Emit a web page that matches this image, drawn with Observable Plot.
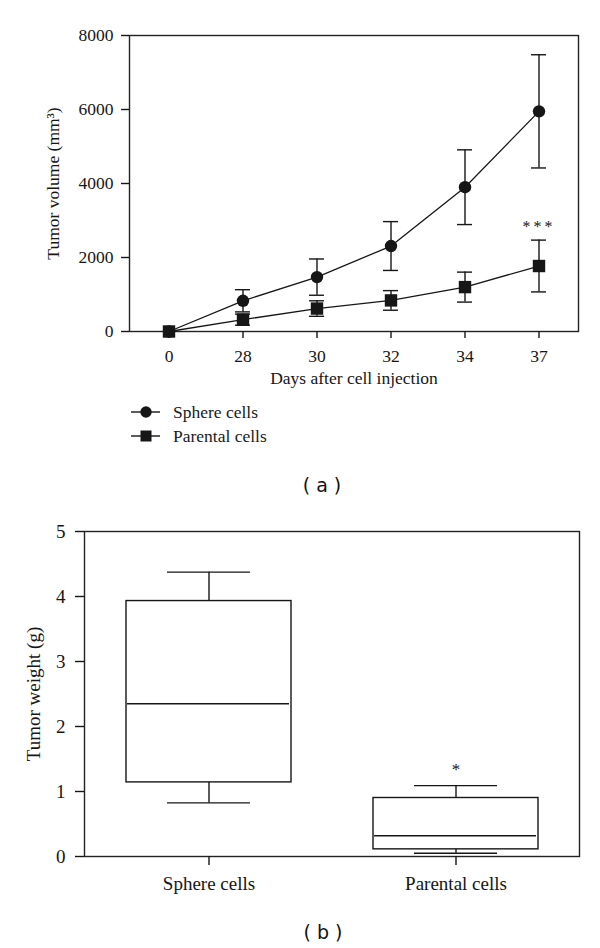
<!DOCTYPE html>
<html><head><meta charset="utf-8">
<script src="https://cdn.jsdelivr.net/npm/d3@7"></script>
<script src="https://cdn.jsdelivr.net/npm/@observablehq/plot@0.6"></script>
<style>
body{margin:0;background:#fff;}
#wrap{position:relative;width:600px;height:948px;background:#fff;font-family:"Liberation Serif",serif;color:#1a1a1a;overflow:hidden;}
.leg{position:absolute;left:131px;height:20px;line-height:20px;font-size:17.5px;display:flex;align-items:center;white-space:nowrap;}
.leg svg{margin-right:13px;}
.cap{position:absolute;font-family:"DejaVu Sans",sans-serif;font-size:19px;transform:translate(-50%,-50%);white-space:pre;color:#111;}
</style></head>
<body><div id="wrap"></div>
<script>
// ---- Panel (a): tumor volume over time ----
const days = ["0", "28", "30", "32", "34", "37"];
const seriesNames = ["Sphere cells", "Parental cells"];
const sphereMean = [0, 830, 1470, 2310, 3900, 5950];
const sphereErr = [0, 300, 490, 660, 1010, 1530];
const parentalMean = [0, 320, 620, 840, 1200, 1770];
const parentalErr = [0, 150, 210, 265, 405, 700];
const volumeTicks = [0, 2000, 4000, 6000, 8000];

// ---- Panel (b): tumor weight box plot ----
const groups = ["Sphere cells", "Parental cells"];
const weightMin = [0.825, 0.05];
const weightQ1 = [1.14, 0.11];
const weightMedian = [2.35, 0.32];
const weightQ3 = [3.93, 0.90];
const weightMax = [4.375, 1.09];
const weightTicks = [0, 1, 2, 3, 4, 5];

const ink = "#161616";
const wrap = document.getElementById("wrap");

function rowsFor(name, mean, err) {
  return days.map((d, i) => ({day: d, series: name, mean: mean[i], err: err[i], lo: mean[i] - err[i], hi: mean[i] + err[i]}));
}
const sphereRows = rowsFor(seriesNames[0], sphereMean, sphereErr);
const parentalRows = rowsFor(seriesNames[1], parentalMean, parentalErr);
const allRows = sphereRows.concat(parentalRows);
const errRows = allRows.filter(d => d.err > 0);
const starsA = [{day: "37", y: parentalRows[5].hi, label: "***"}];

const chartA = Plot.plot({
  width: 600, height: 400,
  marginTop: 35, marginBottom: 69, marginLeft: 129, marginRight: 22,
  style: {fontFamily: "'Liberation Serif', serif", fontSize: "17.5px", color: ink, background: "transparent", overflow: "visible"},
  x: {type: "band", domain: days, paddingInner: 0.8, paddingOuter: 0.4, label: null},
  y: {domain: [0, 8000], label: null},
  marks: [
    Plot.frame({stroke: "#222", strokeWidth: 1.4}),
    Plot.axisY({ticks: volumeTicks, tickSize: 8, tickPadding: 8, tickFormat: d3.format("d"), label: null, strokeWidth: 1.4}),
    Plot.axisX({tickSize: 7, tickPadding: 11, label: null, strokeWidth: 1.4}),
    Plot.text(["Days after cell injection"], {text: d => d, frameAnchor: "bottom", dy: 52}),
    Plot.text(["Tumor volume (mm³)"], {text: d => d, frameAnchor: "left", textAnchor: "middle", rotate: -90, dx: -76}),
    Plot.line(allRows, {x: "day", y: "mean", z: "series", stroke: ink, strokeWidth: 1.3}),
    Plot.ruleX(errRows, {x: "day", y1: "lo", y2: "hi", stroke: ink, strokeWidth: 1.4}),
    Plot.tickY(errRows, {x: "day", y: "hi", stroke: ink, strokeWidth: 1.4}),
    Plot.tickY(errRows, {x: "day", y: "lo", stroke: ink, strokeWidth: 1.4}),
    Plot.dot(sphereRows, {x: "day", y: "mean", symbol: "circle", r: 6.2, fill: ink}),
    Plot.dot(parentalRows, {x: "day", y: "mean", symbol: "square", r: 7, fill: ink}),
    Plot.text(starsA, {x: "day", y: "y", text: "label", dy: -13, fontSize: 16})
  ]
});
chartA.style.position = "absolute";
chartA.style.left = "0px";
chartA.style.top = "0px";
wrap.appendChild(chartA);
d3.select(chartA).selectAll("text").filter(function() { return this.textContent === "***"; }).attr("letter-spacing", "3px");

// legend for (a)
function legendItem(name, symbolType, top) {
  const div = document.createElement("div");
  div.className = "leg";
  div.style.top = top + "px";
  const sym = symbolType === "circle"
    ? `<circle cx="15" cy="8" r="5.7" fill="${ink}"/>`
    : `<rect x="9.5" y="2.5" width="11" height="11" fill="${ink}"/>`;
  div.innerHTML = `<svg width="29" height="16"><line x1="0" x2="29" y1="8" y2="8" stroke="${ink}" stroke-width="1.4"/>${sym}</svg><span>${name}</span>`;
  wrap.appendChild(div);
}
legendItem(seriesNames[0], "circle", 402);
legendItem(seriesNames[1], "square", 426);

function caption(txt, x, y) {
  const d = document.createElement("div");
  d.className = "cap";
  d.style.left = x + "px";
  d.style.top = y + "px";
  d.textContent = txt;
  wrap.appendChild(d);
}
caption("( a )", 322, 485);

// ---- Panel (b) ----
const boxes = groups.map((g, i) => ({group: g, min: weightMin[i], q1: weightQ1[i], median: weightMedian[i], q3: weightQ3[i], max: weightMax[i]}));
const starsB = [{group: "Parental cells", y: weightMax[1], label: "*"}];

const chartB = Plot.plot({
  width: 600, height: 410,
  marginTop: 31, marginBottom: 54, marginLeft: 84, marginRight: 21,
  style: {fontFamily: "'Liberation Serif', serif", fontSize: "19px", color: ink, background: "transparent", overflow: "visible"},
  x: {type: "band", domain: groups, paddingInner: 1 / 3, paddingOuter: 1 / 6, label: null},
  y: {domain: [0, 5], label: null},
  marks: [
    Plot.frame({stroke: "#222", strokeWidth: 1.4}),
    Plot.axisY({ticks: weightTicks, tickSize: 9, tickPadding: 10, tickFormat: d3.format("d"), label: null, strokeWidth: 1.4}),
    Plot.axisX({tickSize: 9, tickPadding: 11, label: null, strokeWidth: 1.4}),
    Plot.text(["Tumor weight (g)"], {text: d => d, frameAnchor: "left", textAnchor: "middle", rotate: -90, dx: -51}),
    Plot.ruleX(boxes, {x: "group", y1: "min", y2: "q1", stroke: ink, strokeWidth: 1.4}),
    Plot.ruleX(boxes, {x: "group", y1: "q3", y2: "max", stroke: ink, strokeWidth: 1.4}),
    Plot.barY(boxes, {x: "group", y1: "q1", y2: "q3", fill: "white", stroke: ink, strokeWidth: 1.4}),
    Plot.tickY(boxes, {x: "group", y: "median", stroke: ink, strokeWidth: 1.4, insetLeft: 1, insetRight: 2}),
    Plot.tickY(boxes, {x: "group", y: "max", stroke: ink, strokeWidth: 1.4, insetLeft: 41, insetRight: 41}),
    Plot.tickY(boxes, {x: "group", y: "min", stroke: ink, strokeWidth: 1.4, insetLeft: 41, insetRight: 41}),
    Plot.text(starsB, {x: "group", y: "y", text: "label", dy: -16, fontSize: 17})
  ]
});
chartB.style.position = "absolute";
chartB.style.left = "0px";
chartB.style.top = "500px";
wrap.appendChild(chartB);
caption("( b )", 323, 932);
</script>
</body></html>
